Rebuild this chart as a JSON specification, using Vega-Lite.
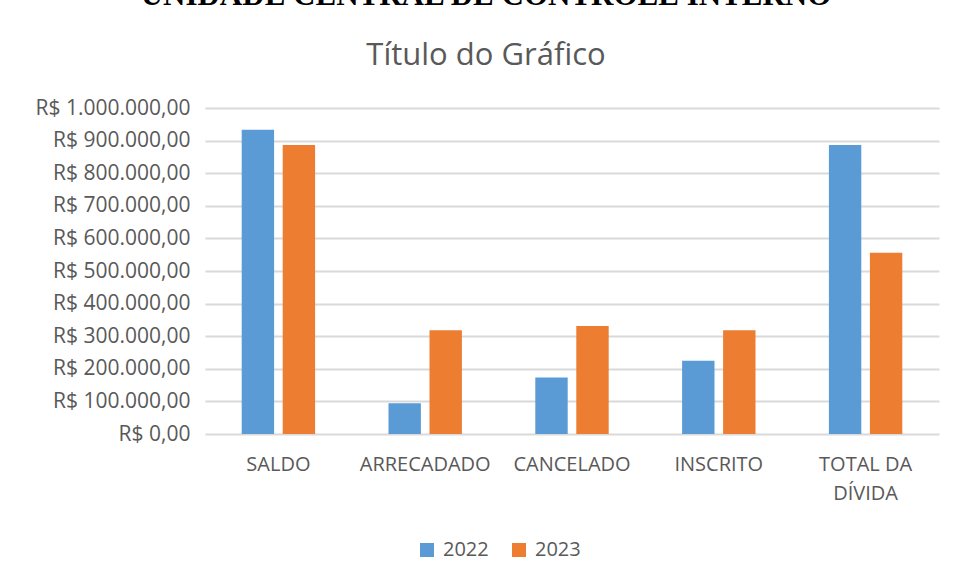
{
  "$schema": "https://vega.github.io/schema/vega-lite/v6.json",
  "width": 734,
  "height": 326,
  "autosize": {"type": "none"},
  "padding": {"left": 205, "top": 108, "right": 15, "bottom": 146},
  "background": "white",
  "title": {
    "text": "UNIDADE CENTRAL DE CONTROLE INTERNO",
    "subtitle": "Título do Gráfico",
    "anchor": "middle",
    "frame": "group",
    "dx": -86,
    "font": "Liberation Serif",
    "fontSize": 31,
    "fontWeight": "bold",
    "color": "#000000",
    "subtitleFont": "Open Sans",
    "subtitleFontSize": 31,
    "subtitleColor": "#595959",
    "subtitlePadding": 29,
    "offset": 25
  },
  "data": {
    "values": [
      {"categoria": "SALDO", "ano": "2022", "valor": 933000},
      {"categoria": "SALDO", "ano": "2023", "valor": 886500},
      {"categoria": "ARRECADADO", "ano": "2022", "valor": 94500},
      {"categoria": "ARRECADADO", "ano": "2023", "valor": 318500},
      {"categoria": "CANCELADO", "ano": "2022", "valor": 173500},
      {"categoria": "CANCELADO", "ano": "2023", "valor": 331500},
      {"categoria": "INSCRITO", "ano": "2022", "valor": 225000},
      {"categoria": "INSCRITO", "ano": "2023", "valor": 318500},
      {"categoria": "TOTAL DA DÍVIDA", "ano": "2022", "valor": 886500},
      {"categoria": "TOTAL DA DÍVIDA", "ano": "2023", "valor": 556000}
    ]
  },
  "mark": {"type": "bar"},
  "encoding": {
    "x": {
      "field": "categoria",
      "type": "nominal",
      "sort": null,
      "title": null,
      "scale": {"paddingInner": 0.5, "paddingOuter": 0.25},
      "axis": {
        "labelAngle": 0,
        "domain": false,
        "ticks": false,
        "labelPadding": 20,
        "labelFont": "Open Sans",
        "labelFontSize": 20,
        "labelColor": "#595959",
        "labelLineHeight": 29,
        "labelExpr": "datum.label == 'TOTAL DA DÍVIDA' ? ['TOTAL DA', 'DÍVIDA'] : datum.label"
      }
    },
    "xOffset": {
      "field": "ano",
      "type": "nominal",
      "scale": {"paddingInner": 0.21, "paddingOuter": 0}
    },
    "y": {
      "field": "valor",
      "type": "quantitative",
      "title": null,
      "scale": {"domain": [0, 1000000], "nice": false},
      "axis": {
        "values": [0, 100000, 200000, 300000, 400000, 500000, 600000, 700000, 800000, 900000, 1000000],
        "format": "$,.2f",
        "domain": false,
        "ticks": false,
        "labelPadding": 15,
        "labelFont": "Open Sans",
        "labelFontSize": 21,
        "labelColor": "#595959",
        "gridColor": "#D9D9D9",
        "gridWidth": 2
      }
    },
    "color": {
      "field": "ano",
      "type": "nominal",
      "scale": {"domain": ["2022", "2023"], "range": ["#5B9BD5", "#ED7D31"]},
      "legend": {
        "title": null,
        "orient": "none",
        "direction": "horizontal",
        "legendX": 212,
        "legendY": 432,
        "symbolType": "square",
        "symbolSize": 196,
        "symbolStrokeWidth": 0,
        "labelFont": "Open Sans",
        "labelFontSize": 20,
        "labelColor": "#595959",
        "labelOffset": 6,
        "columnPadding": 20
      }
    }
  },
  "config": {
    "locale": {
      "number": {"decimal": ",", "thousands": ".", "grouping": [3], "currency": ["R$ ", ""]}
    },
    "view": {"stroke": null}
  }
}
